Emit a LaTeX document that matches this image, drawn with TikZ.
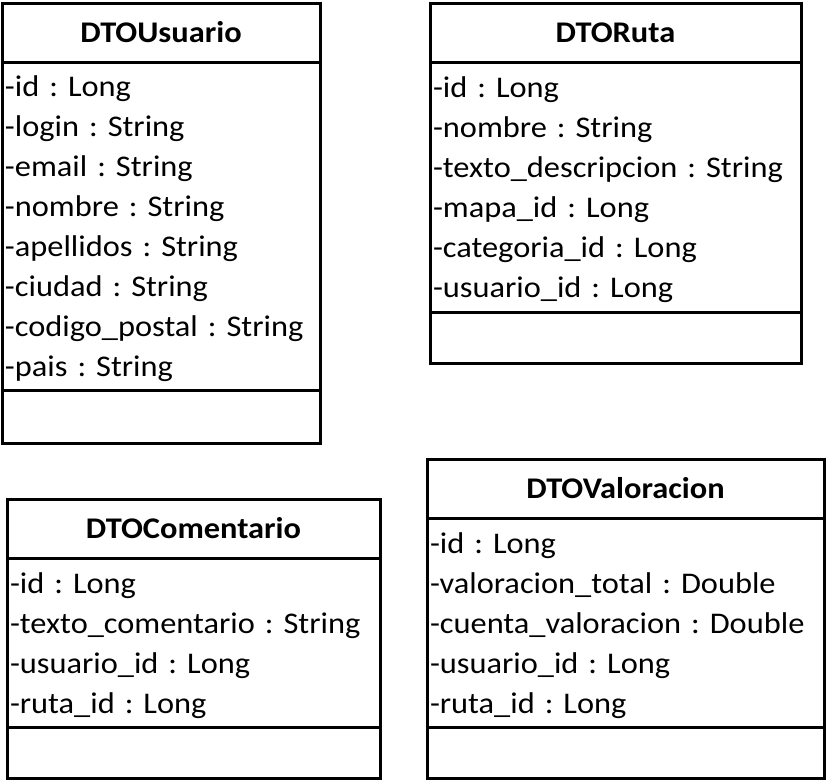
\documentclass[tikz,border=0pt]{standalone}
\usepackage{fontspec}
\setmainfont{Carlito}[FakeStretch=1.08]
\usetikzlibrary{positioning}
\frenchspacing
\tikzstyle{classname} = [rectangle, draw=black, line width=3pt, outer sep=0pt, font=\fontsize{30}{40}\selectfont\bfseries, text centered, minimum height=59pt, anchor=north west]
\tikzstyle{attributes} = [rectangle, draw=black, line width=3pt, outer sep=0pt, align=left, inner xsep=3pt, inner ysep=0pt, execute at begin node=\rule{0pt}{27pt}]
\tikzstyle{methods} = [rectangle, draw=black, line width=3pt, outer sep=0pt]

\begin{document}
\begin{tikzpicture}[x=1pt, y=1pt, font=\fontsize{30}{40}\selectfont]
            \useasboundingbox (0,0) rectangle (826,-782);

            % DTOUsuario
            \node (usuarioT) [classname, minimum width=318pt] at (2,-3) {DTOUsuario};
            \node (usuarioA) [attributes, text width=312pt, minimum height=328pt, below=0pt of usuarioT] {-id : Long\\-login : String\\-email : String\\-nombre : String\\-apellidos : String\\-ciudad : String\\-codigo\_postal : String\\-pais : String};
            \node (usuarioM) [methods, minimum width=318pt, minimum height=53pt, below=0pt of usuarioA] {};

            % DTORuta
            \node (rutaT) [classname, minimum width=371pt] at (430,-3) {DTORuta};
            \node (rutaA) [attributes, text width=365pt, minimum height=250pt, below=0pt of rutaT] {-id : Long\\-nombre : String\\-texto\_descripcion : String\\-mapa\_id : Long\\-categoria\_id : Long\\-usuario\_id : Long};
            \node (rutaM) [methods, minimum width=371pt, minimum height=51pt, below=0pt of rutaA] {};

            % DTOComentario
            \node (comentarioT) [classname, minimum width=373pt] at (7,-499) {DTOComentario};
            \node (comentarioA) [attributes, text width=367pt, minimum height=169pt, below=0pt of comentarioT] {-id : Long\\-texto\_comentario : String\\-usuario\_id : Long\\-ruta\_id : Long};
            \node (comentarioM) [methods, minimum width=373pt, minimum height=51pt, below=0pt of comentarioA] {};

            % DTOValoracion
            \node (valoracionT) [classname, minimum width=397pt] at (427,-459) {DTOValoracion};
            \node (valoracionA) [attributes, text width=391pt, minimum height=209pt, below=0pt of valoracionT] {-id : Long\\-valoracion\_total : Double\\-cuenta\_valoracion : Double\\-usuario\_id : Long\\-ruta\_id : Long};
            \node (valoracionM) [methods, minimum width=397pt, minimum height=51pt, below=0pt of valoracionA] {};
        \end{tikzpicture}
\end{document}
